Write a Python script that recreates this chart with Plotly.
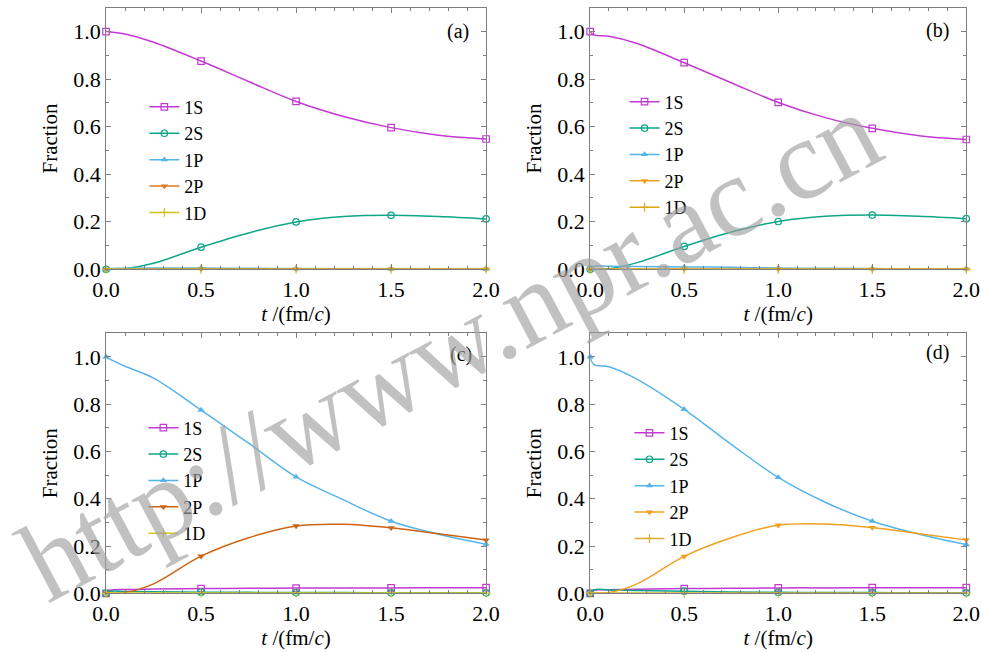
import plotly.graph_objects as go

# Time grid of the sampled curves (fm/c) and the times that carry markers
T = [0, 0.02, 0.1, 0.25, 0.5, 0.75, 1.0, 1.25, 1.5, 1.75, 2.0]
MARK_T = [0, 0.5, 1.0, 1.5, 2.0]

STATES = ["1S", "2S", "1P", "2P", "1D"]

# Panel (a)
A_1S = [1.0, 0.999, 0.99, 0.955, 0.876, 0.79, 0.706, 0.643, 0.596, 0.564, 0.548]
A_2S = [0.0, 0.0, 0.002, 0.025, 0.093, 0.153, 0.199, 0.222, 0.227, 0.222, 0.212]
A_1P = [0.0, 0.003, 0.004, 0.005, 0.005, 0.004, 0.003, 0.002, 0.002, 0.001, 0.001]
A_2P = [0.0, 0.0, 0.0, 0.001, 0.001, 0.001, 0.001, 0.001, 0.001, 0.001, 0.001]
A_1D = [0.0, 0.0, 0.0, 0.0, 0.0, 0.0, 0.0, 0.0, 0.0, 0.0, 0.0]

# Panel (b)
B_1S = [1.0, 0.986, 0.98, 0.95, 0.869, 0.785, 0.702, 0.638, 0.593, 0.562, 0.546]
B_2S = [0.0, 0.0, 0.002, 0.028, 0.096, 0.157, 0.201, 0.223, 0.228, 0.223, 0.213]
B_1P = [0.0, 0.013, 0.013, 0.012, 0.010, 0.008, 0.005, 0.004, 0.003, 0.002, 0.002]
B_2P = [0.0, 0.0, 0.0, 0.001, 0.001, 0.001, 0.001, 0.001, 0.001, 0.001, 0.001]
B_1D = [0.0, 0.0, 0.0, 0.0, 0.0, 0.0, 0.0, 0.0, 0.0, 0.0, 0.0]

# Panel (c)
C_1S = [0.0, 0.012, 0.016, 0.018, 0.020, 0.021, 0.022, 0.023, 0.023, 0.024, 0.024]
C_2S = [0.0, 0.008, 0.008, 0.007, 0.005, 0.004, 0.003, 0.003, 0.002, 0.002, 0.002]
C_1P = [1.0, 0.99, 0.96, 0.91, 0.775, 0.635, 0.492, 0.395, 0.305, 0.25, 0.208]
C_2P = [0.0, 0.0, 0.003, 0.04, 0.157, 0.235, 0.285, 0.292, 0.277, 0.252, 0.225]
C_1D = [0.0, 0.001, 0.001, 0.001, 0.001, 0.001, 0.001, 0.001, 0.001, 0.001, 0.001]

# Panel (d)
D_1S = [0.0, 0.013, 0.015, 0.017, 0.020, 0.021, 0.023, 0.023, 0.024, 0.024, 0.024]
D_2S = [0.0, 0.015, 0.014, 0.012, 0.009, 0.006, 0.004, 0.003, 0.003, 0.002, 0.002]
D_1P = [1.0, 0.967, 0.958, 0.905, 0.778, 0.63, 0.49, 0.385, 0.305, 0.25, 0.206]
D_2P = [0.0, 0.0, 0.003, 0.04, 0.156, 0.235, 0.288, 0.293, 0.278, 0.252, 0.226]
D_1D = [0.0, 0.001, 0.001, 0.001, 0.001, 0.001, 0.001, 0.001, 0.001, 0.001, 0.001]

PANELS = [
    ("(a)", [A_1S, A_2S, A_1P, A_2P, A_1D]),
    ("(b)", [B_1S, B_2S, B_1P, B_2P, B_1D]),
    ("(c)", [C_1S, C_2S, C_1P, C_2P, C_1D]),
    ("(d)", [D_1S, D_2S, D_1P, D_2P, D_1D]),
]

COLORS = {
    "(a)": ["#c23ad2", "#0ea688", "#56b4e9", "#e07a22", "#cfc21a"],
    "(b)": ["#c23ad2", "#0ea688", "#56b4e9", "#f0a020", "#d8aa10"],
    "(c)": ["#c23ad2", "#0ea688", "#56b4e9", "#cc6414", "#d8c820"],
    "(d)": ["#c23ad2", "#0ea688", "#56b4e9", "#f0a020", "#d8b030"],
}
SYMBOLS = ["square-open", "circle-open", "triangle-up", "triangle-down", "cross-thin-open"]

FONT = "Times New Roman, Liberation Serif, DejaVu Serif, serif"
AXIS_GRAY = "#7f7f7f"

X_DOMAINS = [[0.108, 0.495], [0.601, 0.984], [0.108, 0.495], [0.601, 0.984]]
Y_DOMAINS = [[0.587, 0.988], [0.587, 0.988], [0.090, 0.489], [0.090, 0.489]]
LEGEND_POS = [(0.147, 0.864), (0.636, 0.872), (0.146, 0.372), (0.641, 0.364)]
LABEL_POS = [(0.466, 0.951), (0.955, 0.953), (0.469, 0.456), (0.955, 0.460)]

fig = go.Figure()

for p, (label, series) in enumerate(PANELS):
    xa = "x" if p == 0 else f"x{p + 1}"
    ya = "y" if p == 0 else f"y{p + 1}"
    lg = "legend" if p == 0 else f"legend{p + 1}"
    for name, vals, col, sym in zip(STATES, series, COLORS[label], SYMBOLS):
        # markers are only shown at the sampled times in MARK_T
        mcol = [col if t in MARK_T else "rgba(0,0,0,0)" for t in T]
        is_open = sym.endswith("open")
        fig.add_trace(go.Scatter(
            x=T, y=vals, name=name, mode="lines+markers",
            xaxis=xa, yaxis=ya, legend=lg,
            line=dict(color=col, width=1.5, shape="spline", smoothing=1.0),
            marker=dict(symbol=sym, size=6.5, color=mcol,
                        line=dict(color=mcol, width=1.2 if is_open else 0)),
            cliponaxis=False,
        ))

axis_common = dict(
    showline=True, linecolor=AXIS_GRAY, linewidth=1, mirror="ticks",
    ticks="inside", ticklen=5, tickcolor=AXIS_GRAY, tickwidth=1,
    showgrid=False, zeroline=False, automargin=False,
    tickfont=dict(family=FONT, size=22, color="black"),
)

layout = dict(
    width=982, height=652,
    margin=dict(l=0, r=0, t=0, b=0, autoexpand=False),
    paper_bgcolor="white", plot_bgcolor="white",
    font=dict(family=FONT, size=20, color="black"),
)

for p in range(4):
    xk = "xaxis" if p == 0 else f"xaxis{p + 1}"
    yk = "yaxis" if p == 0 else f"yaxis{p + 1}"
    ya = "y" if p == 0 else f"y{p + 1}"
    xa = "x" if p == 0 else f"x{p + 1}"
    layout[xk] = dict(
        axis_common, domain=X_DOMAINS[p], anchor=ya, range=[0, 2.0],
        tick0=0, dtick=0.5, tickformat=".1f",
        minor=dict(dtick=0.1, ticks="inside", ticklen=3, tickcolor=AXIS_GRAY),
        title=dict(text="<i>t</i> /(fm/<i>c</i>)", standoff=3,
                   font=dict(family=FONT, size=21)),
    )
    layout[yk] = dict(
        axis_common, domain=Y_DOMAINS[p], anchor=xa, range=[0, 1.1],
        tick0=0, dtick=0.2, tickformat=".1f",
        minor=dict(dtick=0.1, ticks="inside", ticklen=3, tickcolor=AXIS_GRAY),
        title=dict(text="Fraction", standoff=9,
                   font=dict(family=FONT, size=21)),
    )
    lk = "legend" if p == 0 else f"legend{p + 1}"
    lx, ly = LEGEND_POS[p]
    layout[lk] = dict(
        x=lx, y=ly, xanchor="left", yanchor="top",
        bgcolor="rgba(0,0,0,0)", borderwidth=0,
        font=dict(family=FONT, size=18, color="black"),
        tracegroupgap=0, itemwidth=30,
    )

annotations = []
for (label, _), (ax, ay) in zip(PANELS, LABEL_POS):
    annotations.append(dict(
        text=label, x=ax, y=ay, xref="paper", yref="paper",
        xanchor="center", yanchor="middle", showarrow=False,
        font=dict(family=FONT, size=20, color="black"),
    ))

# site watermark running diagonally across the figure
annotations.append(dict(
    text="http://www.npr.ac.cn", x=0.458, y=0.468, xref="paper", yref="paper",
    xanchor="center", yanchor="middle", showarrow=False, textangle=-28,
    font=dict(family=FONT, size=114, color="rgba(160,160,160,0.65)"),
))
layout["annotations"] = annotations

fig.update_layout(**layout)
fig.write_html("out.html")
